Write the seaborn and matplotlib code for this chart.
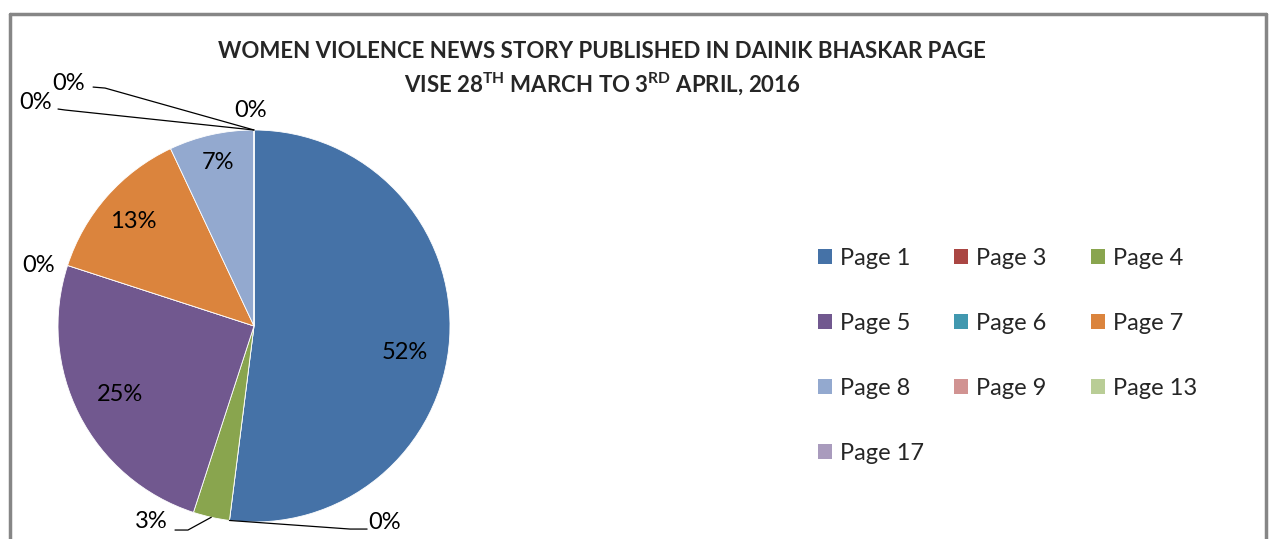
import matplotlib
matplotlib.use("Agg")
import matplotlib.pyplot as plt
import matplotlib.patches as mpatches
from matplotlib.lines import Line2D
import seaborn as sns
import numpy as np

# data
pages = ["Page 1", "Page 3", "Page 4", "Page 5", "Page 6", "Page 7",
         "Page 8", "Page 9", "Page 13", "Page 17"]
shares = [52, 0, 3, 25, 0, 13, 7, 0, 0, 0]
colors = ["#4572A7", "#AA4643", "#89A54E", "#71588F", "#4198AF",
          "#DB843D", "#93A9CF", "#D19392", "#B9CD96", "#A99BBD"]

sns.set_theme(style="white")
plt.rcParams["font.family"] = ["Lato", "DejaVu Sans"]
plt.rcParams["mathtext.fontset"] = "custom"
plt.rcParams["mathtext.rm"] = "Lato:bold"
plt.rcParams["mathtext.bf"] = "Lato:bold"
plt.rcParams["mathtext.it"] = "Lato:bold"

W, H = 1269, 539
fig = plt.figure(figsize=(W / 100, H / 100), dpi=100)
fig.patch.set_facecolor("white")

# pie area: centre (254, 326) px, radius 196 px
cx, cy, r = 254, 326, 196
ax = fig.add_axes([(cx - r) / W, (H - cy - r) / H, 2 * r / W, 2 * r / H])
wedges, _ = ax.pie(shares, colors=colors, startangle=90, counterclock=False,
                   wedgeprops=dict(edgecolor="white", linewidth=0.6))
ax.set_xlim(-1, 1)
ax.set_ylim(-1, 1)
ax.set_aspect("equal")
ax.axis("off")

# label layout (text anchor, horizontal alignment, leader elbow points)
label_layout = [
    ((0.770, -0.133), "center", None),
    ((0.585, -1.005), "left", [(0.490, -1.036), (0.577, -1.036)]),
    ((-0.439, -1.000), "right", [(-0.337, -1.041), (-0.403, -1.041)]),
    ((-0.684, -0.352), "center", None),
    ((-1.015, 0.311), "right", None),
    ((-0.617, 0.531), "center", None),
    ((-0.184, 0.832), "center", None),
    ((-1.031, 1.138), "right", [(-0.964, 1.102), (-1.000, 1.107)]),
    ((-0.862, 1.235), "right", [(-0.760, 1.214), (-0.821, 1.219)]),
    ((-0.015, 1.102), "center", None),
]

for w, val, (xy, ha, leader) in zip(wedges, shares, label_layout):
    ax.text(xy[0], xy[1], f"{val}%", ha=ha, va="center", fontsize=17,
            color="black", clip_on=False)
    if leader:
        mid = np.deg2rad((w.theta1 + w.theta2) / 2)
        pts = [(np.cos(mid), np.sin(mid))] + leader
        xs, ys = zip(*pts)
        ax.plot(xs, ys, color="black", lw=0.9, clip_on=False)

# title
fig.text(602 / W, 1 - 51 / H,
         "WOMEN VIOLENCE NEWS STORY PUBLISHED IN DAINIK BHASKAR PAGE",
         ha="center", va="center", fontsize=16, fontweight="bold")
fig.text(602 / W, 1 - 84 / H,
         r"VISE 28$^{\mathrm{TH}}$ MARCH TO 3$^{\mathrm{RD}}$ APRIL, 2016",
         ha="center", va="center", fontsize=16, fontweight="bold")

# legend: three columns, filled row-wise
handles = [mpatches.Patch(facecolor=c, edgecolor="none") for c in colors]
col_x = [818, 954, 1091]
for k, x0 in enumerate(col_x):
    idx = list(range(k, len(pages), 3))
    fig.legend([handles[i] for i in idx], [pages[i] for i in idx],
               loc="upper left", bbox_to_anchor=(x0 / W, 1 - 248 / H),
               frameon=False, fontsize=17, handlelength=0.6,
               handleheight=0.6, handletextpad=0.35, labelspacing=1.86,
               borderpad=0, borderaxespad=0)

# outer chart frame (bottom edge is cut off)
frame_col = "#868686"
fig.add_artist(Line2D([9.5 / W, 9.5 / W], [0, 1 - 14 / H], color=frame_col, lw=2.5))
fig.add_artist(Line2D([9.5 / W, 1266 / W], [1 - 14 / H, 1 - 14 / H], color=frame_col, lw=2.5))
fig.add_artist(Line2D([1266 / W, 1266 / W], [0, 1 - 14 / H], color=frame_col, lw=2.5))

fig.savefig("out.png", dpi=100, facecolor="white")
